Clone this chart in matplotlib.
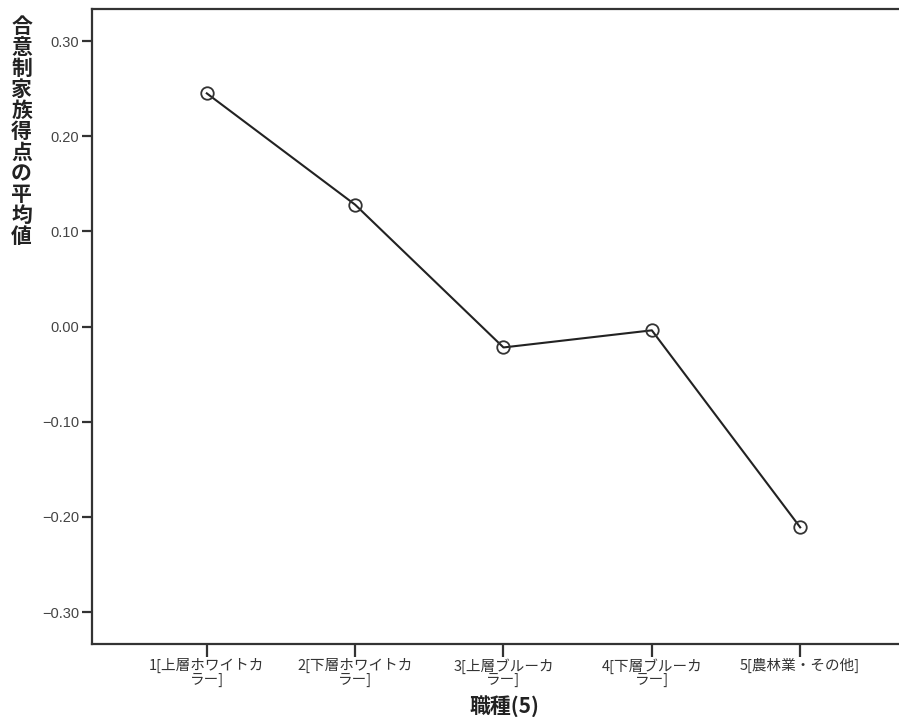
import numpy as np
import matplotlib
matplotlib.use("Agg")
import matplotlib.pyplot as plt

plt.rcParams['font.family'] = ['Liberation Sans', 'Noto Sans CJK JP', 'DejaVu Sans']

categories = ["1[上層ホワイトカ\nラー]", "2[下層ホワイトカ\nラー]", "3[上層ブルーカ\nラー]",
              "4[下層ブルーカ\nラー]", "5[農林業・その他]"]
means = [0.245, 0.128, -0.022, -0.004, -0.211]
yticks = [0.30, 0.20, 0.10, 0.00, -0.10, -0.20, -0.30]
ylabel = "合意制家族得点の平均値"
xlabel = "職種(5)"

fig = plt.figure(figsize=(8.99, 7.17), dpi=100)
ax = fig.add_axes([0.1023, 0.1018, 0.9155, 0.8856])

x = np.arange(1, len(means) + 1)
ax.plot(x, means, color='#222222', linewidth=1.5, zorder=2)
ax.plot(x, means, 'o', markersize=9, markerfacecolor='none',
        markeredgecolor='#333333', markeredgewidth=1.3, zorder=3)

ax.set_xlim(0.226, 5.774)
ax.set_ylim(-0.3336, 0.3336)
ax.set_yticks(yticks)
ax.set_yticklabels([f"{v:.2f}".replace("-", "\u2212") for v in yticks])
ax.set_xticks(x)
ax.set_xticklabels(categories, fontsize=10.5, color='#333333',
                   family=['Noto Sans CJK JP', 'DejaVu Sans'], linespacing=0.95)

for s in ax.spines.values():
    s.set_color('#333333')
    s.set_linewidth(1.6)
ax.spines['right'].set_visible(False)

ax.tick_params(axis='y', length=7, width=1.6, color='#333333', labelsize=10.5,
               labelcolor='#444444', pad=2)
ax.tick_params(axis='x', length=9, width=1.6, color='#333333', pad=1)

fig.text(0.5615, 0.016, xlabel, ha='center', va='center', fontsize=15,
         fontweight='bold', family=['Noto Sans CJK JP', 'DejaVu Sans'], color='#222222')
fig.text(0.024, 0.816, "\n".join(ylabel), ha='center', va='center', fontsize=15,
         fontweight='bold', family=['Noto Sans CJK JP', 'DejaVu Sans'],
         linespacing=1.0, color='#222222')

fig.savefig("out.png", dpi=100)
